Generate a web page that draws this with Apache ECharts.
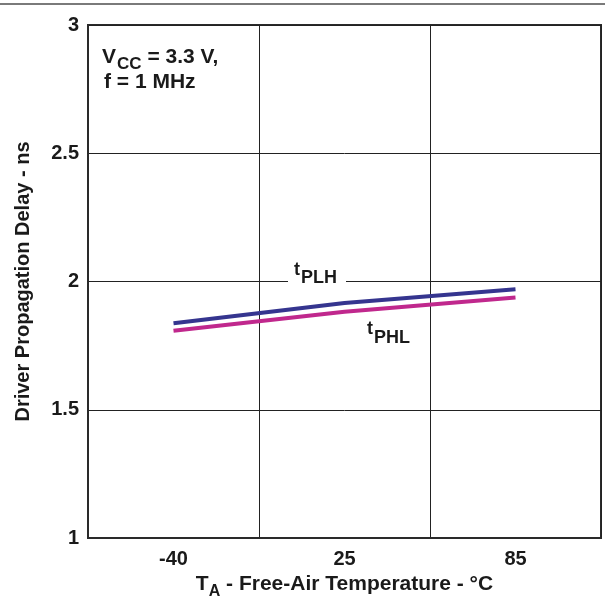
<!DOCTYPE html>
<html>
<head>
<meta charset="utf-8">
<style>
  html, body { margin: 0; padding: 0; background: #fff; }
  #chart { width: 605px; height: 596px; }
</style>
<script src="https://cdn.jsdelivr.net/npm/echarts@6/dist/echarts.min.js"></script>
</head>
<body>
<div id="chart"></div>
<script>
// Ambient temperature categories (°C)
var temperatures = ['-40', '25', '85'];
// Propagation delay, low-to-high output transition (ns)
var tPLH = [1.837, 1.916, 1.970];
// Propagation delay, high-to-low output transition (ns)
var tPHL = [1.808, 1.882, 1.938];
// Y axis range and step (ns)
var yMin = 1, yMax = 3, yStep = 0.5;

var FONT = '"Liberation Sans", Arial, Helvetica, sans-serif';
var INK = '#1a1a1a';

var chart = echarts.init(document.getElementById('chart'), null, { renderer: 'canvas' });

// Text with a lowered subscript part, placed at (x, y) = left / top of the main text box
function subText(x, y, main, sub, size, subSize, drop, rest) {
  var els = [];
  var ctx = document.createElement('canvas').getContext('2d');
  ctx.font = 'bold ' + size + 'px ' + FONT;
  var w1 = ctx.measureText(main).width;
  ctx.font = 'bold ' + subSize + 'px ' + FONT;
  var w2 = ctx.measureText(sub).width;
  els.push({ type: 'text', x: x, y: y, z: 10,
    style: { text: main, font: 'bold ' + size + 'px ' + FONT, fill: INK, textVerticalAlign: 'top' } });
  els.push({ type: 'text', x: x + w1 + 1, y: y + drop, z: 10,
    style: { text: sub, font: 'bold ' + subSize + 'px ' + FONT, fill: INK, textVerticalAlign: 'top' } });
  if (rest) {
    els.push({ type: 'text', x: x + w1 + w2 + 1, y: y, z: 10,
      style: { text: rest, font: 'bold ' + size + 'px ' + FONT, fill: INK, textVerticalAlign: 'top' } });
  }
  return els;
}

var graphics = [
  // thin rule across the top of the page
  { type: 'line', shape: { x1: 0, y1: 4, x2: 605, y2: 4 },
    style: { stroke: '#7a7a7a', lineWidth: 2 } },
  // white gap behind the tPLH label
  { type: 'rect', shape: { x: 288, y: 262, width: 58, height: 26 }, z: 9,
    style: { fill: '#ffffff' } }
];
graphics = graphics
  .concat(subText(102, 47, 'V', 'CC', 21, 17, 9, ' = 3.3 V,'))
  .concat([{ type: 'text', x: 104, y: 72, z: 10,
    style: { text: 'f = 1 MHz', font: 'bold 21px ' + FONT, fill: INK, textVerticalAlign: 'top' } }])
  .concat(subText(294, 261, 't', 'PLH', 18, 18, 8))
  .concat(subText(367, 320, 't', 'PHL', 18, 18, 9));

var option = {
  animation: false,
  backgroundColor: '#ffffff',
  grid: {
    left: 88, right: 4, top: 25, bottom: 58,
    outerBoundsMode: 'none',
    containLabel: false,
    show: true, borderColor: '#2a2a2a', borderWidth: 2, backgroundColor: 'transparent'
  },
  xAxis: {
    type: 'category',
    data: temperatures,
    boundaryGap: true,
    axisLine: { show: true, lineStyle: { color: '#2a2a2a', width: 2 } },
    axisTick: { show: false },
    axisLabel: { margin: 11, color: INK, fontFamily: FONT, fontWeight: 'bold', fontSize: 20 },
    splitLine: { show: true, lineStyle: { color: '#222', width: 1 } },
    name: '{n|T}{s|A}{n| - Free-Air Temperature - °C}',
    nameLocation: 'middle',
    nameGap: 31,
    nameTextStyle: {
      rich: {
        n: { fontFamily: FONT, fontWeight: 'bold', fontSize: 21, color: INK },
        s: { fontFamily: FONT, fontWeight: 'bold', fontSize: 16, color: INK, padding: [14, 0, 0, 0] }
      }
    }
  },
  yAxis: {
    type: 'value',
    min: yMin, max: yMax, interval: yStep,
    axisLine: { show: true, lineStyle: { color: '#2a2a2a', width: 2 } },
    axisTick: { show: false },
    axisLabel: { margin: 9, color: INK, fontFamily: FONT, fontWeight: 'bold', fontSize: 20,
      formatter: function (v) { return String(Math.round(v * 10) / 10); } },
    splitLine: { show: true, lineStyle: { color: '#222', width: 1 } },
    name: 'Driver Propagation Delay - ns',
    nameLocation: 'middle',
    nameGap: 55,
    nameTextStyle: { color: INK, fontFamily: FONT, fontWeight: 'bold', fontSize: 20 }
  },
  series: [
    { name: 'tPLH', type: 'line', data: tPLH, symbol: 'none',
      lineStyle: { color: '#35358f', width: 4 }, z: 5 },
    { name: 'tPHL', type: 'line', data: tPHL, symbol: 'none',
      lineStyle: { color: '#c0288d', width: 4 }, z: 5 }
  ],
  graphic: graphics
};

chart.setOption(option);
</script>
</body>
</html>
